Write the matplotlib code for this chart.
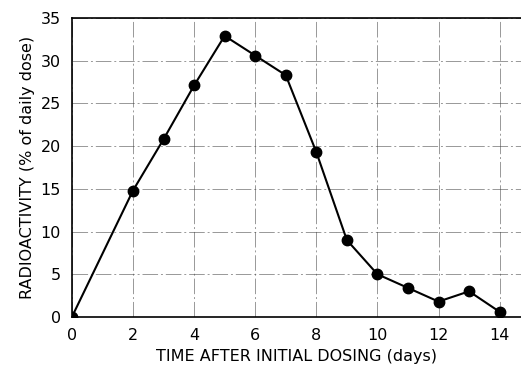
import matplotlib
matplotlib.use("Agg")
import matplotlib.pyplot as plt

# radioactivity excreted per day
days = [0, 2, 3, 4, 5, 6, 7, 8, 9, 10, 11, 12, 13, 14]
radioactivity = [0, 14.8, 20.8, 27.1, 32.9, 30.6, 28.3, 19.3, 9.0, 5.0, 3.4, 1.8, 3.0, 0.6]
xticks = [0, 2, 4, 6, 8, 10, 12, 14]
yticks = [0, 5, 10, 15, 20, 25, 30, 35]

plt.rcParams["font.family"] = ["DejaVu Sans"]

fig = plt.figure(figsize=(5.21, 3.66), dpi=100)
ax = fig.add_axes([0.138, 0.134, 0.862, 0.817])

ax.plot(days, radioactivity, color="black", lw=1.5, marker="o", ms=7.5, zorder=3)

ax.set_xlim(0, 14.7)
ax.set_ylim(0, 35)
ax.set_xticks(xticks)
ax.set_yticks(yticks)
ax.tick_params(length=0, labelsize=11.5, pad=8)

ax.grid(True, color="#444444", lw=0.7, ls=(0, (16, 3, 2, 3)), alpha=0.55)
ax.spines["right"].set_visible(False)
for s in ("left", "bottom", "top"):
    ax.spines[s].set_linewidth(1.2)

ax.set_xlabel("TIME AFTER INITIAL DOSING (days)", fontsize=11.5, labelpad=4)
ax.set_ylabel("RADIOACTIVITY (% of daily dose)", fontsize=11.5, labelpad=4)

fig.savefig("out.png", dpi=100, facecolor="white")
